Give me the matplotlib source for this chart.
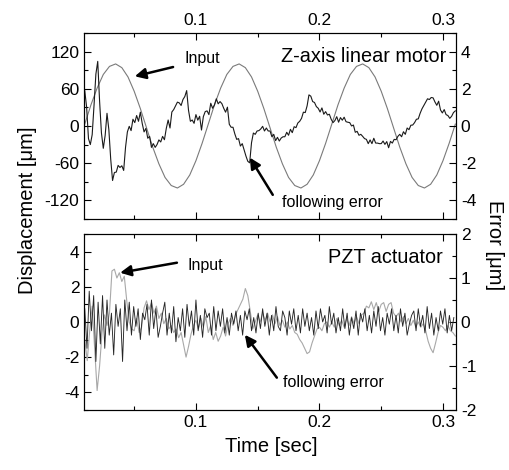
import numpy as np
import matplotlib
matplotlib.use('Agg')
import matplotlib.pyplot as plt
from matplotlib.ticker import MultipleLocator

plt.rcParams['font.family'] = ['Liberation Sans', 'DejaVu Sans']
plt.rcParams['axes.unicode_minus'] = False

# all series start at t = 0.01 s, sampled at a fixed step
T_START = 0.01

# Z-axis linear motor: input displacement [um], one value every 5 ms
motor_input = [
    3, 34, 61, 83, 96, 100, 94, 79, 56, 28, -3, -34, -61, -83, -96, -100, -94, -79, -56, -28,
    3, 34, 61, 83, 96, 100, 94, 79, 56, 28, -3, -34, -61, -83, -96, -100, -94, -79, -56, -28,
    3, 34, 61, 83, 96, 100, 94, 79, 56, 28, -3, -34, -61, -83, -96, -100, -94, -79, -56, -28,
    3,
]

# Z-axis linear motor: following error [um], one value every 1.5 ms
motor_error = [
    1.89, 1.01, -0.68, -1.0, -0.47, 1.11, 2.79, 3.47, 1.33, -0.38,
    -1.20, -0.51, 0.68, -0.20, -1.78, -2.93, -2.50, -2.48, -2.12, -2.23,
    -2.14, -2.39, -1.15, -0.32, -0.02, -0.25, 0.36, 0.18, 0.56, 0.25,
    0.74, 0.14, -0.32, -0.13, -0.66, -0.56, -1.15, -0.95, -1.15, -1.0,
    -0.75, -0.86, -0.56, -0.74, -0.13, 0.32, -0.11, 0.75, 0.88, 1.08,
    1.28, 1.24, 1.10, 1.42, 1.58, 1.90, 0.84, 0.25, 0.32, 0.14,
    0.61, 0.31, 0.52, -0.22, 0.50, 0.77, 0.81, 0.61, 1.22, 0.95,
    1.13, 1.46, 1.19, 1.31, 1.20, 0.95, 0.74, 1.01, 0.09, -0.07,
    -0.07, -0.43, -0.72, -0.68, -1.08, -0.95, -1.29, -1.62, -1.90, -1.98,
    -0.90, -0.38, -0.45, -0.27, -0.25, -0.16, -0.02, -0.27, -0.11, -0.27,
    -0.27, -0.58, -0.45, -0.79, -0.61, -0.81, -0.65, -0.58, -0.58, -0.34,
    -0.50, -0.18, -0.36, -0.04, -0.09, 0.16, 0.25, 0.41, 0.74, 0.72,
    1.08, 1.67, 1.60, 1.31, 1.26, 1.04, 0.95, 0.75, 0.97, 0.63,
    0.77, 0.59, 0.63, 0.36, 0.18, 0.29, 0.50, 0.20, 0.45, 0.31,
    0.47, 0.23, 0.20, 0.18, 0.0, 0.05, -0.34, -0.29, -0.50, -0.45,
    -0.56, -0.68, -0.72, -0.95, -0.75, -0.95, -0.66, -0.92, -0.92, -0.95,
    -0.95, -0.81, -0.99, -0.84, -1.17, -0.83, -0.92, -0.72, -0.74, -0.56,
    -0.45, -0.58, -0.31, -0.45, -0.11, -0.20, 0.04, 0.05, 0.18, 0.36,
    0.38, 0.68, 0.92, 1.10, 1.29, 1.46, 1.42, 1.53, 1.51, 1.29,
    1.11, 1.33, 0.86, 0.70, 0.88, 0.61, 0.56, 0.41, 0.52, 0.72, 0.81,
]

# PZT actuator: input displacement [um], one value every 2 ms
pzt_input = [
    -1.0, -2.2, -0.5, 0.9, -1.5, -3.9, -2.5, -0.6, 0.4, -0.2,
    0.5, 2.9, 3.0, 2.5, 2.8, 2.3, 2.6, 1.2, 0.0, -0.4,
    -0.5, 0.2, -0.6, -0.3, 0.8, 1.2, 0.7, 1.1, 0.5, 0.9,
    0.2, 0.5, -0.1, 0.2, -0.4, -0.2, -0.6, -0.4, -0.9, -0.6,
    -1.3, -2.0, -1.4, -0.7, -0.2, 0.1, -0.4, 0.2, -0.3, 0.3,
    -0.6, -0.2, -1.0, -0.6, -1.1, -0.8, -0.3, -0.8, -0.1, 0.2,
    -0.2, 0.4, 0.7, 1.0, 1.3, 1.9, 1.5, 0.6, -0.4, 0.0,
    0.4, 0.0, 0.5, 0.1, 0.5, 0.0, 0.4, -0.1, 0.3, -0.2,
    0.1, -0.3, 0.0, -0.4, -0.2, -0.6, -0.7, -1.0, -1.2, -1.5,
    -1.8, -1.7, -1.2, -0.8, -0.4, -0.3, -0.5, -0.1, 0.0, -0.3,
    0.0, -0.3, 0.2, -0.2, 0.1, -0.3, 0.2, -0.2, 0.3, -0.1,
    0.3, -0.1, 0.4, 0.5, 0.9, 0.8, 1.15, 0.7, 1.1, 0.6,
    1.0, 1.1, 0.6, 1.0, 1.1, 0.5, 0.3, 0.5, 0.0, 0.3,
    -0.1, 0.2, -0.2, 0.1, -0.3, 0.0, -0.3, -0.1, -0.5, -1.1,
    -1.5, -1.75, -1.2, -0.6, -0.2, -0.3, -0.5, -0.2, -0.5, -0.6,
    -0.8,
]

# PZT actuator: following error [um], one value every 1.8 ms
pzt_error = [
    0.3, -0.6, 0.7, -0.2, 0.6, -0.9, 0.45, -0.5, 0.6, -0.6,
    0.5, -0.3, 0.2, -0.75, 0.4, -0.1, 0.3, -0.9, 0.5, -0.2,
    0.45, -0.3, 0.35, -0.1, 0.3, -0.4, 0.2, 0.05, 0.4, -0.3,
    0.5, -0.15, 0.3, -0.35, -0.1, 0.2, 0.45, -0.3, 0.2, -0.25,
    0.35, -0.45, 0.1, -0.2, 0.3, -0.35, 0.4, -0.1, 0.25, -0.3,
    0.5, -0.2, 0.15, -0.35, 0.3, 0.1, 0.2, -0.3, 0.35, -0.2,
    0.25, -0.1, 0.3, -0.25, 0.1, -0.3, 0.2, -0.05, 0.25, -0.2,
    0.15, -0.3, 0.25, 0.05, 0.3, -0.2, 0.1, -0.25, 0.2, -0.15,
    0.3, -0.1, 0.2, -0.3, 0.15, -0.2, 0.35, -0.1, -0.2, 0.25,
    0.1, -0.3, 0.25, -0.05, 0.3, -0.2, 0.15, -0.25, 0.3, -0.1,
    0.2, -0.2, 0.1, -0.3, 0.25, -0.15, 0.3, 0.0, 0.15, -0.25,
    0.35, -0.05, 0.2, -0.25, 0.1, -0.2, 0.3, -0.15, 0.2, -0.3,
    0.1, -0.15, 0.25, -0.3, 0.2, 0.0, 0.3, -0.2, 0.15, -0.25,
    0.25, -0.1, 0.35, -0.2, 0.1, -0.3, 0.2, -0.05, 0.3, -0.2,
    0.15, -0.25, 0.3, -0.1, 0.2, -0.3, -0.05, 0.15, 0.25, -0.2,
    0.3, -0.1, 0.15, -0.25, 0.35, -0.15, 0.2, -0.3, 0.1, -0.2,
    0.25, -0.05, 0.3, -0.25, 0.15, -0.2, 0.1,
]


def time_axis(values, step):
    return T_START + step * np.arange(len(values))


def style_axes(ax, axr, ylim, ymajor, rlim, rmajor, labels_on_top):
    ax.set_xlim(0.0095, 0.3105)
    ax.set_ylim(*ylim)
    axr.set_ylim(*rlim)
    ax.xaxis.set_major_locator(MultipleLocator(0.1))
    ax.xaxis.set_minor_locator(MultipleLocator(0.05))
    ax.yaxis.set_major_locator(MultipleLocator(ymajor))
    ax.yaxis.set_minor_locator(MultipleLocator(ymajor / 2))
    axr.yaxis.set_major_locator(MultipleLocator(rmajor))
    axr.yaxis.set_minor_locator(MultipleLocator(rmajor / 2))
    for a in (ax, axr):
        a.tick_params(which='both', direction='in', labelsize=12.5, width=0.8)
        a.tick_params(which='major', length=5)
        a.tick_params(which='minor', length=3)
        for s in a.spines.values():
            s.set_linewidth(0.8)
    ax.tick_params(axis='x', which='both', top=True, bottom=True,
                   labeltop=labels_on_top, labelbottom=not labels_on_top)
    ax.tick_params(axis='y', which='both', right=False)


def arrow(axr, ax, text, head, tail, text_pos):
    axr.annotate('', xy=head, xytext=tail, xycoords=ax.transData, textcoords=ax.transData,
                 arrowprops=dict(arrowstyle='-|>', color='black', lw=1.8,
                                 mutation_scale=16, shrinkA=0, shrinkB=0))
    axr.text(text_pos[0], text_pos[1], text, transform=ax.transData,
             fontsize=11.5, ha='left', va='center')


fig = plt.figure(figsize=(5.1, 4.7), dpi=100)

# top panel: Z-axis linear motor
ax1 = fig.add_axes([0.165, 0.534, 0.729, 0.396])
ax1r = ax1.twinx()
ax1.plot(time_axis(motor_input, 0.005), motor_input, color='#7a7a7a', lw=0.8)
ax1r.plot(time_axis(motor_error, 0.0015), motor_error, color='#1a1a1a', lw=0.8)
style_axes(ax1, ax1r, (-150, 150), 60, (-5, 5), 2, True)
ax1r.text(0.3028, 112, 'Z-axis linear motor', transform=ax1.transData,
          fontsize=14.3, ha='right', va='center')
arrow(ax1r, ax1, 'Input', (0.0505, 80), (0.0815, 95), (0.091, 108))
arrow(ax1r, ax1, 'following error', (0.1436, -51), (0.1622, -111), (0.1695, -124))

# bottom panel: PZT actuator
ax2 = fig.add_axes([0.165, 0.128, 0.729, 0.374])
ax2r = ax2.twinx()
ax2.plot(time_axis(pzt_input, 0.002), pzt_input, color='#a8a8a8', lw=0.8)
ax2r.plot(time_axis(pzt_error, 0.0018), pzt_error, color='#262626', lw=0.65)
style_axes(ax2, ax2r, (-5, 5), 2, (-2, 2), 1, False)
ax2r.text(0.2996, 3.65, 'PZT actuator', transform=ax2.transData,
          fontsize=14.3, ha='right', va='center')
arrow(ax2r, ax2, 'Input', (0.0386, 2.8), (0.0846, 3.37), (0.0935, 3.2))
arrow(ax2r, ax2, 'following error', (0.1396, -0.73), (0.1655, -3.17), (0.1703, -3.45))

fig.text(0.053, 0.553, 'Displacement [\u03bcm]', rotation=90, fontsize=14.5,
         ha='center', va='center')
fig.text(0.970, 0.479, 'Error [\u03bcm]', rotation=270, fontsize=14.5,
         ha='center', va='center')
fig.text(0.531, 0.049, 'Time [sec]', fontsize=14.5, ha='center', va='center')

fig.savefig('out.png', dpi=100)
